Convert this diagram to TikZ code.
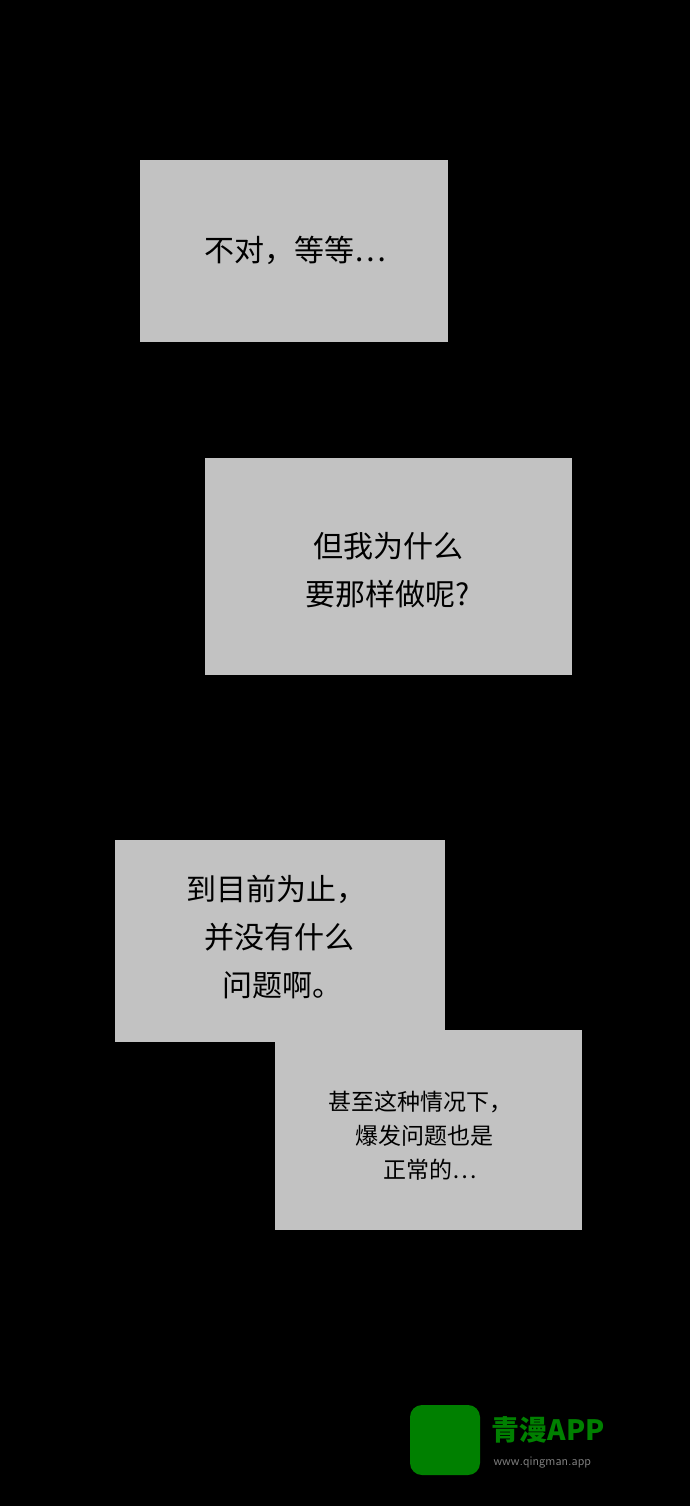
\documentclass[tikz,border=0pt]{standalone}
\usepackage{fontspec}
\newfontfamily\cjk{Noto Sans CJK SC}
\begin{document}
\begin{tikzpicture}[x=1pt,y=-1pt,
 big/.style={font=\cjk\fontsize{30}{48}\selectfont,text=black,align=center},
 small/.style={font=\cjk\fontsize{23}{34}\selectfont,text=black,align=left}]
\fill[black] (0,0) rectangle (690,1506);
\useasboundingbox (0,0) rectangle (690,1506);
\colorlet{pg}{black!24}
\fill[pg] (140,160) rectangle (448,342);
\node[big] (t1) at (295,250) {不对，等等…};
\fill[pg] (205,458) rectangle (572,675);
\node[big] (t2) at (388,570) {但我为什么\\要那样做呢?};
\fill[pg] (115,840) rectangle (445,1042);
\fill[pg] (275,1030) rectangle (582,1230);
\node[big,align=left,anchor=north west] (t3) at (183,872) {到目前为止，\\\hspace{18pt}并没有什么\\\hspace{36pt}问题啊。};
\node[small,anchor=north west] (t4) at (325,1087) {甚至这种情况下，\\\hspace{27pt}爆发问题也是\\\hspace{55pt}正常的…};
\fill[green!50!black,rounded corners=12pt] (410,1405) rectangle (480,1475);
\node[font=\cjk\bfseries\fontsize{28}{30}\selectfont,text=green!50!black,anchor=west] (brand) at (488,1430) {青漫APP};
\node[font=\sffamily\fontsize{13}{14}\selectfont,text=gray,anchor=west] (url) at (490,1463) {www.qingman.app};
\end{tikzpicture}
\end{document}
